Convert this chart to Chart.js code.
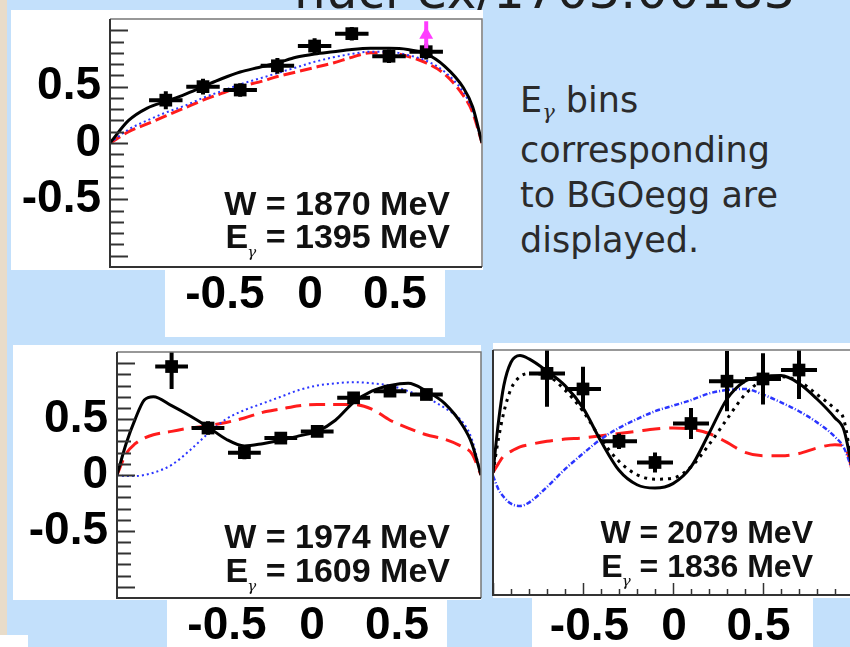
<!DOCTYPE html>
<html>
<head>
<meta charset="utf-8">
<script src="https://cdn.jsdelivr.net/npm/chart.js@4.4.1/dist/chart.umd.min.js"></script>
<style>
  html, body { margin: 0; padding: 0; }
  body { width: 850px; height: 647px; overflow: hidden; position: relative; background: #c3e0fb; font-family: 'Liberation Sans', Arial, sans-serif; }
  .box { position: absolute; background: #fff; }
  .strip { position: absolute; left: 0; top: 0; width: 7px; height: 635px; background: #e8dcc9; }
  canvas { position: absolute; }
  .title { position: absolute; left: 294px; top: -34px; font: 50px/50px 'DejaVu Sans', sans-serif; color: #1e1e1e; white-space: nowrap; }
  .wlab { position: absolute; text-align: right; font-weight: bold; color: #111; white-space: nowrap; }
  .wlab .g, .note .g { position: relative; font-family: 'DejaVu Serif', serif; font-style: italic; font-weight: normal; }
  .wlab .g { font-size: 15px; top: 9px; margin-left: -1px; }
  .note { position: absolute; left: 520px; top: 78px; font: 35px/45px 'DejaVu Sans', sans-serif; color: #2b2b2b; white-space: nowrap; }
  .note .g { font-size: 21px; top: 7px; }
</style>
</head>
<body>
<div class="strip"></div>
<div class="title">nucl-ex/1703.00183</div>

<div class="box" style="left:11px; top:10px; width:472px; height:260px;"></div>
<div class="box" style="left:165px; top:270px; width:280px; height:67px;"></div>
<div class="box" style="left:13px; top:345px; width:468px; height:255px;"></div>
<div class="box" style="left:167px; top:600px; width:280px; height:47px;"></div>
<div class="box" style="left:493px; top:343px; width:357px; height:255px;"></div>
<div class="box" style="left:532px; top:598px; width:281px; height:49px;"></div>
<div class="box" style="left:0px; top:635px; width:28px; height:12px;"></div>

<canvas id="p1870" width="480" height="330" style="left:11px; top:10px;"></canvas>
<canvas id="p1974" width="480" height="304" style="left:13px; top:343px;"></canvas>
<canvas id="p2079" width="390" height="306" style="left:481px; top:341px;"></canvas>

<div class="wlab" style="right:400px; top:187px; font-size:34px; line-height:33px;">W = 1870 MeV<br>E<span class="g">γ</span> = 1395 MeV</div>
<div class="wlab" style="right:400px; top:519px; font-size:34px; line-height:34px;">W = 1974 MeV<br>E<span class="g">γ</span> = 1609 MeV</div>
<div class="wlab" style="right:37px; top:515px; font-size:32px; line-height:34px;">W = 2079 MeV<br>E<span class="g">γ</span> = 1836 MeV</div>

<div class="note">E<span class="g">γ</span> bins<br>corresponding<br>to BGOegg are<br>displayed.</div>

<script>
// cos(theta) bin centres of the measured points
const cosTheta = [-0.7, -0.5, -0.3, -0.1, 0.1, 0.3, 0.5, 0.7];
const axisLabelValues = [-0.5, 0, 0.5];

// W = 1870 MeV
const sigma1870 = [0.38, 0.50, 0.47, 0.685, 0.86, 0.97, 0.77, 0.81];
const dSigma1870 = [0.08, 0.07, 0.06, 0.07, 0.07, 0.06, 0.06, 0.07];
const dCos1870 = [0.09, 0.09, 0.09, 0.09, 0.09, 0.09, 0.09, 0.09];
const lepsCos = [0.7];
const lepsSigma1870 = [0.96];
const lepsErr1870 = [0.12];
const curveCos1870 = [-1, -0.9, -0.8, -0.7, -0.6, -0.5, -0.4, -0.3, -0.2, -0.1, 0, 0.1, 0.2, 0.3, 0.4, 0.5, 0.6, 0.7, 0.8, 0.9, 0.95, 1];
const solid1870 = [0, 0.2, 0.31, 0.37, 0.43, 0.5, 0.57, 0.63, 0.67, 0.71, 0.76, 0.79, 0.81, 0.83, 0.84, 0.84, 0.83, 0.79, 0.68, 0.49, 0.32, 0];
const red1870 = [0, 0.1, 0.17, 0.24, 0.31, 0.38, 0.44, 0.5, 0.54, 0.59, 0.63, 0.67, 0.71, 0.76, 0.8, 0.8, 0.77, 0.71, 0.61, 0.42, 0.27, 0];
const blue1870 = [0, 0.12, 0.2, 0.27, 0.33, 0.4, 0.46, 0.52, 0.57, 0.62, 0.67, 0.72, 0.76, 0.79, 0.81, 0.81, 0.78, 0.73, 0.63, 0.45, 0.29, 0];

// W = 1974 MeV
const sigma1974 = [0.97, 0.42, 0.20, 0.33, 0.39, 0.69, 0.75, 0.72];
const dSigma1974 = [0.2, 0.06, 0.06, 0.05, 0.05, 0.05, 0.05, 0.05];
const dCos1974 = [0.09, 0.09, 0.09, 0.09, 0.09, 0.09, 0.09, 0.09];
const curveCos1974 = [-1, -0.95, -0.9, -0.85, -0.8, -0.7, -0.6, -0.5, -0.4, -0.3, -0.2, -0.1, 0, 0.1, 0.2, 0.3, 0.4, 0.5, 0.6, 0.7, 0.8, 0.9, 0.95, 1];
const solid1974 = [0, 0.28, 0.5, 0.67, 0.7, 0.62, 0.53, 0.43, 0.32, 0.26, 0.28, 0.31, 0.35, 0.39, 0.49, 0.65, 0.75, 0.8, 0.82, 0.75, 0.64, 0.44, 0.28, 0];
const red1974 = [0, 0.19, 0.28, 0.33, 0.36, 0.39, 0.42, 0.44, 0.47, 0.51, 0.56, 0.59, 0.62, 0.63, 0.63, 0.63, 0.59, 0.49, 0.42, 0.36, 0.32, 0.25, 0.19, 0];
const blue1974 = [0, -0.01, -0.01, 0, 0.02, 0.09, 0.22, 0.37, 0.5, 0.58, 0.64, 0.7, 0.76, 0.8, 0.82, 0.83, 0.82, 0.8, 0.75, 0.69, 0.6, 0.47, 0.32, 0];

// W = 2079 MeV
const sigma2079 = [0.89, 0.75, 0.28, 0.09, 0.44, 0.82, 0.84, 0.92];
const dSigma2079 = [0.3, 0.2, 0.07, 0.09, 0.14, 0.27, 0.23, 0.26];
const dCos2079 = [0.1, 0.1, 0.1, 0.1, 0.1, 0.1, 0.1, 0.1];
const curveCos2079 = [-1, -0.97, -0.94, -0.9, -0.85, -0.8, -0.7, -0.6, -0.5, -0.4, -0.3, -0.2, -0.1, 0, 0.1, 0.2, 0.3, 0.4, 0.5, 0.6, 0.7, 0.8, 0.9, 0.95, 1];
const solid2079 = [0, 0.45, 0.78, 0.99, 1.05, 1.02, 0.91, 0.78, 0.58, 0.28, 0.02, -0.11, -0.14, -0.1, 0.05, 0.35, 0.66, 0.82, 0.86, 0.87, 0.8, 0.66, 0.49, 0.38, 0];
const dotted2079 = [0, 0.3, 0.54, 0.75, 0.86, 0.89, 0.87, 0.74, 0.55, 0.3, 0.1, -0.02, -0.06, -0.05, 0.05, 0.25, 0.48, 0.7, 0.83, 0.86, 0.82, 0.7, 0.57, 0.47, 0];
const red2079 = [0, 0.08, 0.15, 0.19, 0.23, 0.25, 0.28, 0.3, 0.31, 0.33, 0.35, 0.37, 0.39, 0.4, 0.39, 0.35, 0.27, 0.18, 0.15, 0.15, 0.17, 0.22, 0.25, 0.24, 0];
const blue2079 = [-0.03, -0.15, -0.22, -0.28, -0.3, -0.27, -0.13, 0.03, 0.17, 0.3, 0.4, 0.48, 0.55, 0.6, 0.65, 0.71, 0.74, 0.75, 0.7, 0.63, 0.55, 0.45, 0.32, 0.22, 0];

const BLACK = '#000';
const RED = '#ff1c1c';
const BLUE = '#2b35ff';
const MAGENTA = '#ff3cff';

const pts = (xs, ys) => xs.map((x, i) => ({ x: x, y: ys[i] }));

function curve(xs, ys, color, dash, width) {
  return {
    type: 'line', data: pts(xs, ys), borderColor: color, borderWidth: width || 3,
    borderDash: dash || [], pointRadius: 0, fill: false, cubicInterpolationMode: 'monotone'
  };
}

function points(xs, ys, ex, ey, color, style, radius) {
  return {
    type: 'line', showLine: false, data: pts(xs, ys), errX: ex, errY: ey,
    pointStyle: style || 'rect', pointRadius: radius || 9,
    backgroundColor: color, borderColor: color, borderWidth: 0
  };
}

// error bars, frame and inward tick marks
const panelDecor = {
  id: 'panelDecor',
  beforeDatasetDraw(chart, args) {
    const ds = chart.data.datasets[args.index];
    if (!ds.errY) return;
    const { ctx, chartArea: a, scales: { x, y } } = chart;
    ctx.save();
    ctx.beginPath();
    ctx.rect(a.left, a.top, a.right - a.left, a.bottom - a.top);
    ctx.clip();
    ctx.strokeStyle = ds.borderColor;
    ctx.lineWidth = 4;
    ds.data.forEach((p, i) => {
      const px = x.getPixelForValue(p.x), py = y.getPixelForValue(p.y);
      ctx.beginPath();
      if (ds.errX) {
        ctx.moveTo(x.getPixelForValue(p.x - ds.errX[i]), py);
        ctx.lineTo(x.getPixelForValue(p.x + ds.errX[i]), py);
      }
      ctx.moveTo(px, y.getPixelForValue(p.y - ds.errY[i]));
      ctx.lineTo(px, y.getPixelForValue(p.y + ds.errY[i]));
      ctx.stroke();
    });
    ctx.restore();
  },
  afterDraw(chart, args, opts) {
    const { ctx, chartArea: a, scales: { x, y } } = chart;
    ctx.save();
    ctx.lineCap = 'butt';
    ctx.strokeStyle = '#777';
    ctx.lineWidth = 1.5;
    ctx.beginPath();
    ctx.moveTo(a.left, a.top); ctx.lineTo(a.right, a.top); ctx.lineTo(a.right, a.bottom);
    ctx.stroke();
    ctx.strokeStyle = '#333';
    ctx.lineWidth = 2;
    ctx.beginPath();
    ctx.moveTo(a.left, a.top); ctx.lineTo(a.left, a.bottom); ctx.lineTo(a.right, a.bottom);
    ctx.stroke();
    if (opts.yTicks) {
      for (let k = -10; k <= 10; k++) {
        const py = Math.round(y.getPixelForValue(k / 10)) + 0.5;
        const len = k % 5 === 0 ? 18 : 14;
        ctx.beginPath(); ctx.moveTo(a.left, py); ctx.lineTo(a.left + len, py); ctx.stroke();
      }
    }
    if (opts.xTicks) {
      ctx.lineWidth = 1.5;
      for (let k = -10; k <= 10; k++) {
        const px = Math.round(x.getPixelForValue(k / 10)) + 0.5;
        const len = k % 5 === 0 ? 12 : 6;
        ctx.beginPath(); ctx.moveTo(px, a.bottom); ctx.lineTo(px, a.bottom - len); ctx.stroke();
      }
    }
    ctx.restore();
  }
};

const bigFont = { family: "'Liberation Sans', Arial, sans-serif", size: 46, weight: 'bold' };

function panel(id, datasets, lay) {
  new Chart(document.getElementById(id), {
    type: 'line',
    data: { datasets: datasets },
    options: {
      responsive: false,
      animation: false,
      devicePixelRatio: 1,
      layout: { padding: lay.padding },
      plugins: {
        legend: { display: false },
        tooltip: { enabled: false },
        panelDecor: { yTicks: lay.yTicks, xTicks: lay.xTicks }
      },
      scales: {
        x: { type: 'linear', min: -1, max: 1, display: false },
        y: {
          type: 'linear', min: -1.1, max: 1.1, display: lay.yLabels, position: 'left',
          grid: { display: false, drawTicks: false }, border: { display: false },
          afterFit: s => { s.width = lay.yWidth; s.paddingTop = 0; s.paddingBottom = 0; },
          afterBuildTicks: s => { s.ticks = axisLabelValues.map(v => ({ value: v })); },
          ticks: { font: bigFont, color: '#000', padding: 9 }
        },
        xl: {
          type: 'linear', position: 'bottom', min: lay.labelRange[0], max: lay.labelRange[1],
          grid: { display: false, drawTicks: false }, border: { display: false },
          afterFit: s => { s.height = lay.labelHeight; s.paddingLeft = 0; s.paddingRight = 0; },
          afterBuildTicks: s => { s.ticks = axisLabelValues.map(v => ({ value: v })); },
          ticks: { font: bigFont, color: '#000', padding: lay.labelPad, autoSkip: false, maxRotation: 0, minRotation: 0 }
        }
      }
    },
    plugins: [panelDecor]
  });
}

panel('p1870', [
  points(lepsCos, lepsSigma1870, null, lepsErr1870, MAGENTA, 'triangle', 8),
  points(cosTheta, sigma1870, dCos1870, dSigma1870, BLACK),
  curve(curveCos1870, solid1870, BLACK, [], 3),
  curve(curveCos1870, blue1870, BLUE, [2, 3], 2),
  curve(curveCos1870, red1870, RED, [12, 5], 3)
], { padding: { top: 2, right: 9, bottom: 0, left: 0 }, yWidth: 99, yLabels: true, yTicks: true, xTicks: false,
     labelRange: [-1.176, 1.012], labelHeight: 73, labelPad: 1 });

panel('p1974', [
  points(cosTheta, sigma1974, dCos1974, dSigma1974, BLACK),
  curve(curveCos1974, solid1974, BLACK, [], 3),
  curve(curveCos1974, blue1974, BLUE, [2, 3], 2),
  curve(curveCos1974, red1974, RED, [16, 8], 3)
], { padding: { top: 2, right: 12, bottom: 0, left: 0 }, yWidth: 104, yLabels: true, yTicks: true, xTicks: false,
     labelRange: [-1.147, 0.994], labelHeight: 49, labelPad: 1 });

panel('p2079', [
  points(cosTheta, sigma2079, dCos2079, dSigma2079, BLACK),
  curve(curveCos2079, solid2079, BLACK, [], 3),
  curve(curveCos2079, dotted2079, BLACK, [3, 5], 3),
  curve(curveCos2079, blue2079, BLUE, [5, 2, 1, 2], 2.5),
  curve(curveCos2079, red2079, RED, [18, 9], 3)
], { padding: { top: 2, right: 18, bottom: 0, left: 12 }, yWidth: 0, yLabels: false, yTicks: false, xTicks: true,
     labelRange: [-1.071, 1.059], labelHeight: 52, labelPad: 5 });
</script>
</body>
</html>
